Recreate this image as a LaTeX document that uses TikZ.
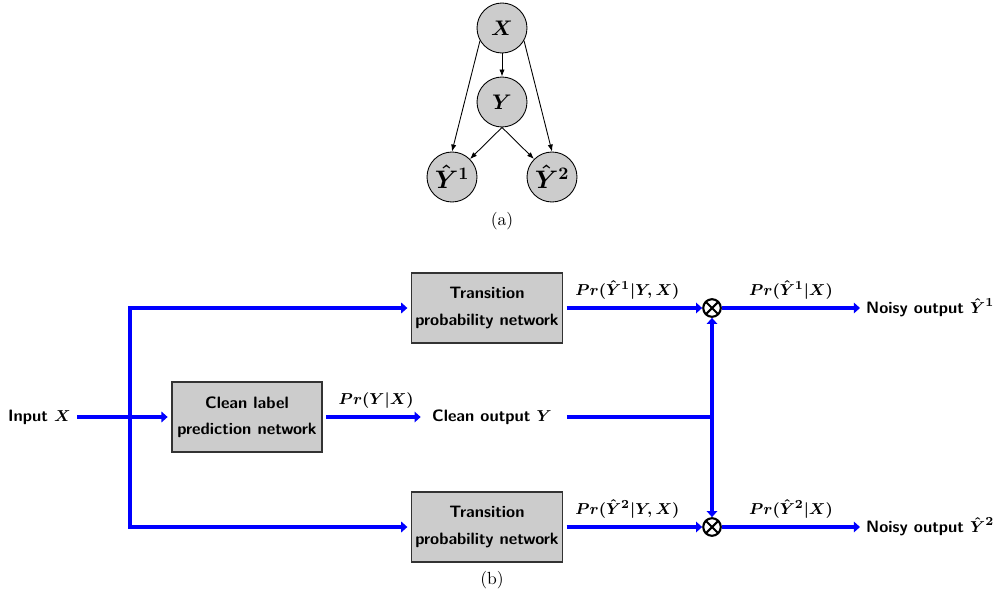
\documentclass[tikz,border=0pt]{standalone}
\usepackage{amsmath}
\usepackage{amssymb}
\usepackage{tikz}
\usetikzlibrary{arrows.meta}
\tikzstyle{varnode}=[circle, draw, line width=0.5pt, fill=black!20, inner sep=0pt, minimum size=1cm, font=\large\boldmath]
\tikzstyle{netbox}=[rectangle, draw=black!80, line width=0.6pt, fill=black!20, minimum width=3cm, minimum height=1.4cm, inner xsep=2pt, align=center, outer sep=2.5pt, font=\fontsize{9.4}{11}\selectfont\sffamily\bfseries]
\tikzstyle{iotext}=[font=\fontsize{9.4}{11}\selectfont\sffamily\bfseries\boldmath]
\tikzstyle{prob}=[above, font=\fontsize{9.4}{11}\selectfont\boldmath]
\tikzstyle{flow}=[draw=blue, line width=2.8pt, -{Triangle[length=3.5pt,width=6pt]}]
\tikzstyle{dep}=[line width=0.5pt, -{Latex[length=4pt,width=3pt]}]
\tikzstyle{mult}=[circle, draw, line width=1.2pt, inner sep=0pt, minimum size=10pt,
  path picture={\draw[line width=1.2pt] (path picture bounding box.north west) -- (path picture bounding box.south east)
    (path picture bounding box.south west) -- (path picture bounding box.north east);}]
\newcommand{\varnode}{\node[varnode]}
\newcommand{\netbox}{\node[netbox]}

\begin{document}
\begin{tikzpicture}[x=0.02cm, y=-0.02cm]
\useasboundingbox (0,0) rectangle (1000,598);
% (a) graphical model
    \varnode (x) at (502,28) {$X$};
    \varnode (y) at (502,102) {$Y$};
    \varnode[font=\Large\boldmath] (yh1) at (452,177) {$\hat{Y}^1$};
    \varnode[font=\Large\boldmath] (yh2) at (552,177) {$\hat{Y}^2$};
    \node (capa) at (502,221) {(a)};

    \draw[dep] (x) -- (y);
    \draw[dep] (x.210) -- (yh1.north);
    \draw[dep] (x.330) -- (yh2.north);
    \draw[dep] (y.south) -- (yh1.north east);
    \draw[dep] (y.south) -- (yh2.north west);

% (b) network
    \node[iotext, anchor=east] (input) at (77,417) {Input $X$};
    \coordinate (split) at (130,417);
    \netbox (clean) at (247,417) {Clean label\\[4pt]prediction network};
    \netbox (trans1) at (487,308) {Transition\\[4pt]probability network};
    \netbox (trans2) at (487,527) {Transition\\[4pt]probability network};
    \node[iotext] (cleanout) at (492,417) {Clean output $Y$};
    \coordinate (junc) at (712,417);
    \node[mult] (mult1) at (712,308) {};
    \node[mult] (mult2) at (712,527) {};
    \node[iotext, anchor=west] (noisy1) at (860,308) {Noisy output $\hat{Y}^1$};
    \node[iotext, anchor=west] (noisy2) at (860,527) {Noisy output $\hat{Y}^2$};
    \node (capb) at (492,580) {(b)};

    \draw[flow] (input) -- (clean);
    \draw[flow] (split) |- (trans1);
    \draw[flow] (split) |- (trans2);
    \draw[flow, shorten >=3pt] (clean) -- node[prob] {$Pr(Y|X)$} (cleanout);
    \draw[flow] (trans1) -- node[prob, xshift=-4pt] {$Pr(\hat{Y}^1|Y,X)$} (mult1);
    \draw[flow] (trans2) -- node[prob, xshift=-4pt] {$Pr(\hat{Y}^2|Y,X)$} (mult2);
    \draw[flow] (mult1) -- node[prob] {$Pr(\hat{Y}^1|X)$} (noisy1);
    \draw[flow] (mult2) -- node[prob] {$Pr(\hat{Y}^2|X)$} (noisy2);
    \draw[flow, -, shorten <=5pt] (cleanout) -- (junc);
    \draw[flow] (junc) -- (mult1);
    \draw[flow] (junc) -- (mult2);
\end{tikzpicture}
\end{document}
